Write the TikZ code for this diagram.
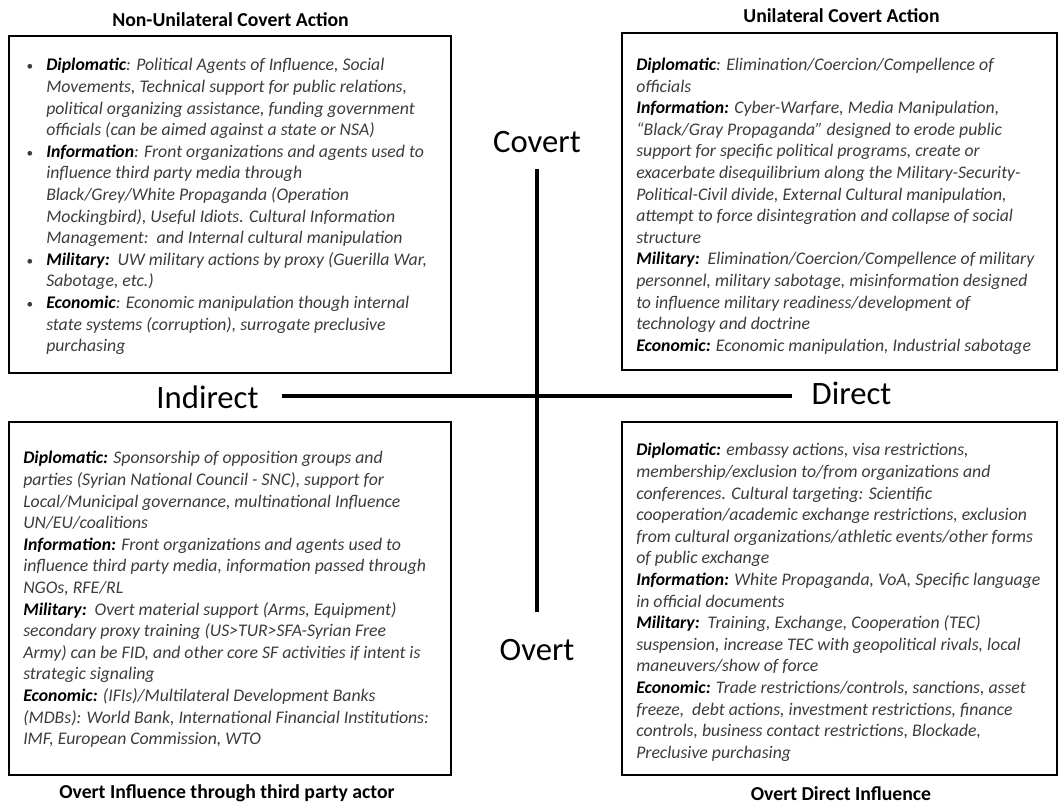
\documentclass[tikz,border=0pt]{standalone}
\usepackage{fontspec}
\setmainfont{Carlito}
\definecolor{bodygray}{HTML}{3C3C3C}
\newcommand{\lbl}[1]{{\color{black}\bfseries #1}}
\newcommand{\bul}{\makebox[15.75pt][l]{\hspace*{1pt}\upshape\fontsize{10}{12}\selectfont\textbullet}}
\newcommand{\ind}{\hspace*{15.75pt}}
\begin{document}
\begin{tikzpicture}[x=0.75pt,y=-0.75pt]
\tikzset{
  qbox/.style={draw=black,line width=2.2pt,inner sep=0pt},
  axis/.style={draw=black,line width=3pt},
  txt/.style={inner sep=0pt,anchor=base west,text=bodygray,font=\fontsize{13.3}{16.2}\selectfont\itshape},
  ttl/.style={inner sep=0pt,anchor=base,font=\fontsize{14.8}{17}\selectfont\bfseries},
  axlbl/.style={inner sep=0pt,anchor=base,font=\fontsize{24.5}{28}\selectfont}
}
\useasboundingbox (0,0) rectangle (1061,805);
\fill[white] (0,0) rectangle (1061,805);

% boxes
\node[qbox,minimum width=331.5pt,minimum height=252.75pt] (tl) at (230,204.5) {};
\node[qbox,minimum width=326.25pt,minimum height=252.75pt] (tr) at (839.5,201.5) {};
\node[qbox,minimum width=331.5pt,minimum height=264.75pt] (bl) at (230,598.5) {};
\node[qbox,minimum width=326.25pt,minimum height=264.75pt] (br) at (839.5,598.5) {};

% titles
\node[ttl] (tlt) at (230.5,27) {Non-Unilateral Covert Action};
\node[ttl] (trt) at (841.5,23) {Unilateral Covert Action};
\node[ttl] (blt) at (227,798) {Overt Influence through third party actor};
\node[ttl] (brt) at (841,800) {Overt Direct Influence};

% axes
\coordinate (vt) at (537,169);
\coordinate (vb) at (537,612);
\coordinate (hl) at (282,396.5);
\coordinate (hr) at (792,396.5);
\draw[axis] (vt) -- (vb);
\draw[axis] (hl) -- (hr);
\node[axlbl] (covert) at (537,153) {Covert};
\node[axlbl] (overt) at (537,660) {Overt};
\node[axlbl] (indirect) at (207.5,409) {Indirect};
\node[axlbl] (direct) at (851.5,405) {Direct};

% texts
\node[txt] (tltext) at (25,71) {\begin{tabular}[t]{@{}l@{}}
\bul\lbl{Diplomatic}: Political Agents of Influence, Social\\
\ind Movements, Technical support for public relations,\\
\ind political organizing assistance, funding government\\
\ind officials (can be aimed against a state or NSA)\\
\bul\lbl{Information}: Front organizations and agents used to\\
\ind influence third party media through\\
\ind Black/Grey/White Propaganda (Operation\\
\ind Mockingbird), Useful Idiots. Cultural Information\\
\ind Management:\ \ and Internal cultural manipulation\\
\bul\lbl{Military:}\ \ UW military actions by proxy (Guerilla War,\\
\ind Sabotage, etc.)\\
\bul\lbl{Economic}: Economic manipulation though internal\\
\ind state systems (corruption), surrogate preclusive\\
\ind purchasing
\end{tabular}};

\node[txt] (trtext) at (636,70.5) {\begin{tabular}[t]{@{}l@{}}
\lbl{Diplomatic}: Elimination/Coercion/Compellence of\\
officials\\
\lbl{Information:} Cyber-Warfare, Media Manipulation,\\
“Black/Gray Propaganda” designed to erode public\\
support for specific political programs, create or\\
exacerbate disequilibrium along the Military-Security-\\
Political-Civil divide, External Cultural manipulation,\\
attempt to force disintegration and collapse of social\\
structure\\
\lbl{Military:}\ \ Elimination/Coercion/Compellence of military\\
personnel, military sabotage, misinformation designed\\
to influence military readiness/development of\\
technology and doctrine\\
\lbl{Economic:} Economic manipulation, Industrial sabotage
\end{tabular}};

\node[txt] (bltext) at (23,464) {\begin{tabular}[t]{@{}l@{}}
\lbl{Diplomatic:} Sponsorship of opposition groups and\\
parties (Syrian National Council - SNC), support for\\
Local/Municipal governance, multinational Influence\\
UN/EU/coalitions\\
\lbl{Information:} Front organizations and agents used to\\
influence third party media, information passed through\\
NGOs, RFE/RL\\
\lbl{Military:}\ \ Overt material support (Arms, Equipment)\\
secondary proxy training (US>TUR>SFA-Syrian Free\\
Army) can be FID, and other core SF activities if intent is\\
strategic signaling\\
\lbl{Economic:} (IFIs)/Multilateral Development Banks\\
(MDBs): World Bank, International Financial Institutions:\\
IMF, European Commission, WTO
\end{tabular}};

\node[txt] (brtext) at (636,456) {\begin{tabular}[t]{@{}l@{}}
\lbl{Diplomatic:} embassy actions, visa restrictions,\\
membership/exclusion to/from organizations and\\
conferences. Cultural targeting: Scientific\\
cooperation/academic exchange restrictions, exclusion\\
from cultural organizations/athletic events/other forms\\
of public exchange\\
\lbl{Information:} White Propaganda, VoA, Specific language\\
in official documents\\
\lbl{Military:}\ \ Training, Exchange, Cooperation (TEC)\\
suspension, increase TEC with geopolitical rivals, local\\
maneuvers/show of force\\
\lbl{Economic:} Trade restrictions/controls, sanctions, asset\\
freeze,\ \ debt actions, investment restrictions, finance\\
controls, business contact restrictions, Blockade,\\
Preclusive purchasing
\end{tabular}};
\end{tikzpicture}
\end{document}
